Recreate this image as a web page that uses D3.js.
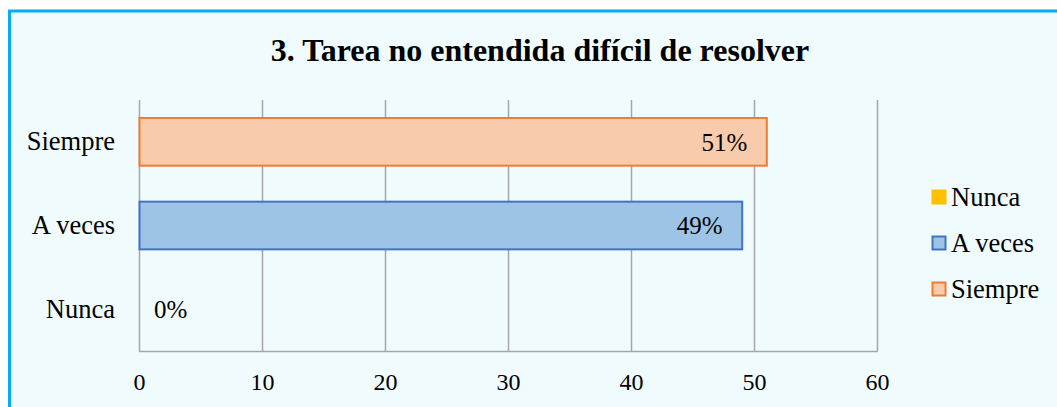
<!DOCTYPE html>
<html>
<head>
<meta charset="utf-8">
<script src="https://cdn.jsdelivr.net/npm/d3@7"></script>
<style>
  body { margin: 0; background: #fff; }
  svg text { font-family: "Liberation Serif", "Times New Roman", serif !important; fill: #000; }
</style>
</head>
<body>
<div id="chart"></div>
<script>
// datos del grafico
const categorias = ["Siempre", "A veces", "Nunca"];
const valores = [51, 49, 0];
const etiquetas = ["51%", "49%", "0%"];
const ticksX = [0, 10, 20, 30, 40, 50, 60];
const leyenda = ["Nunca", "A veces", "Siempre"];

const colores = {
  "Siempre": { fill: "#f8cbad", stroke: "#ed7d31" },
  "A veces": { fill: "#9dc3e6", stroke: "#4472c4" },
  "Nunca": { fill: "#ffc000", stroke: "#ffc000" }
};

const width = 1057;
const height = 407;
const margin = { top: 100, left: 139, right: 180, bottom: 56 };

const svg = d3.select("#chart").append("svg")
    .attr("width", width)
    .attr("height", height);

// fondo y borde
svg.append("rect")
    .attr("x", 9.5).attr("y", 11)
    .attr("width", width + 20).attr("height", height + 20)
    .attr("fill", "#f0fbfe")
    .attr("stroke", "#00b0f0")
    .attr("stroke-width", 3);

svg.append("text")
    .attr("x", 540).attr("y", 61)
    .attr("text-anchor", "middle")
    .attr("font-size", 32)
    .attr("font-weight", "bold")
    .text("3. Tarea no entendida difícil de resolver");

const x = d3.scaleLinear()
    .domain([0, 60])
    .range([margin.left, 877]);

const y = d3.scaleBand()
    .domain(categorias)
    .range([margin.top, 351])
    .paddingInner(0.43)
    .paddingOuter(0.215);

// lineas de cuadricula
svg.append("g")
    .selectAll("line")
    .data(ticksX)
    .join("line")
      .attr("x1", d => x(d) + 0.5)
      .attr("x2", d => x(d) + 0.5)
      .attr("y1", margin.top)
      .attr("y2", 351)
      .attr("stroke", "#a6a6a6")
      .attr("stroke-width", 1.5);

svg.append("line")
    .attr("x1", x(0)).attr("x2", x(60) + 1)
    .attr("y1", 351.5).attr("y2", 351.5)
    .attr("stroke", "#a6a6a6")
    .attr("stroke-width", 1.5);

// eje x
const ejeX = svg.append("g")
    .attr("transform", "translate(0,351)")
    .call(d3.axisBottom(x).tickValues(ticksX).tickSize(0).tickPadding(22));
ejeX.select(".domain").remove();
ejeX.selectAll("text")
    .attr("font-size", 24)
    .attr("fill", "#000");

// eje y
const ejeY = svg.append("g")
    .attr("transform", `translate(${margin.left},0)`)
    .call(d3.axisLeft(y).tickSize(0).tickPadding(24));
ejeY.select(".domain").remove();
ejeY.selectAll("text")
    .attr("font-size", 26.5)
    .attr("fill", "#000");

// barras
const datos = categorias.map((c, i) => ({ cat: c, valor: valores[i], etiqueta: etiquetas[i] }));

svg.append("g")
    .selectAll("rect")
    .data(datos.filter(d => d.valor > 0))
    .join("rect")
      .attr("x", x(0) + 0.5)
      .attr("y", d => y(d.cat))
      .attr("width", d => x(d.valor) - x(0))
      .attr("height", y.bandwidth())
      .attr("fill", d => colores[d.cat].fill)
      .attr("stroke", d => colores[d.cat].stroke)
      .attr("stroke-width", 2);

svg.append("g")
    .selectAll("text")
    .data(datos)
    .join("text")
      .attr("x", d => d.valor > 0 ? x(d.valor) - 19 : x(0) + 15)
      .attr("y", d => y(d.cat) + y.bandwidth() / 2)
      .attr("dy", "0.35em")
      .attr("text-anchor", d => d.valor > 0 ? "end" : "start")
      .attr("font-size", 25)
      .text(d => d.etiqueta);

// leyenda
const ley = svg.append("g")
    .selectAll("g")
    .data(leyenda)
    .join("g")
      .attr("transform", (d, i) => `translate(932,${197 + i * 46})`);

ley.append("rect")
    .attr("x", 0.5).attr("y", -6.5)
    .attr("width", 13).attr("height", 13)
    .attr("fill", d => colores[d].fill)
    .attr("stroke", d => colores[d].stroke)
    .attr("stroke-width", 2);

ley.append("text")
    .attr("x", 19)
    .attr("y", 0)
    .attr("dy", "0.35em")
    .attr("font-size", 26.5)
    .text(d => d);
</script>
</body>
</html>
